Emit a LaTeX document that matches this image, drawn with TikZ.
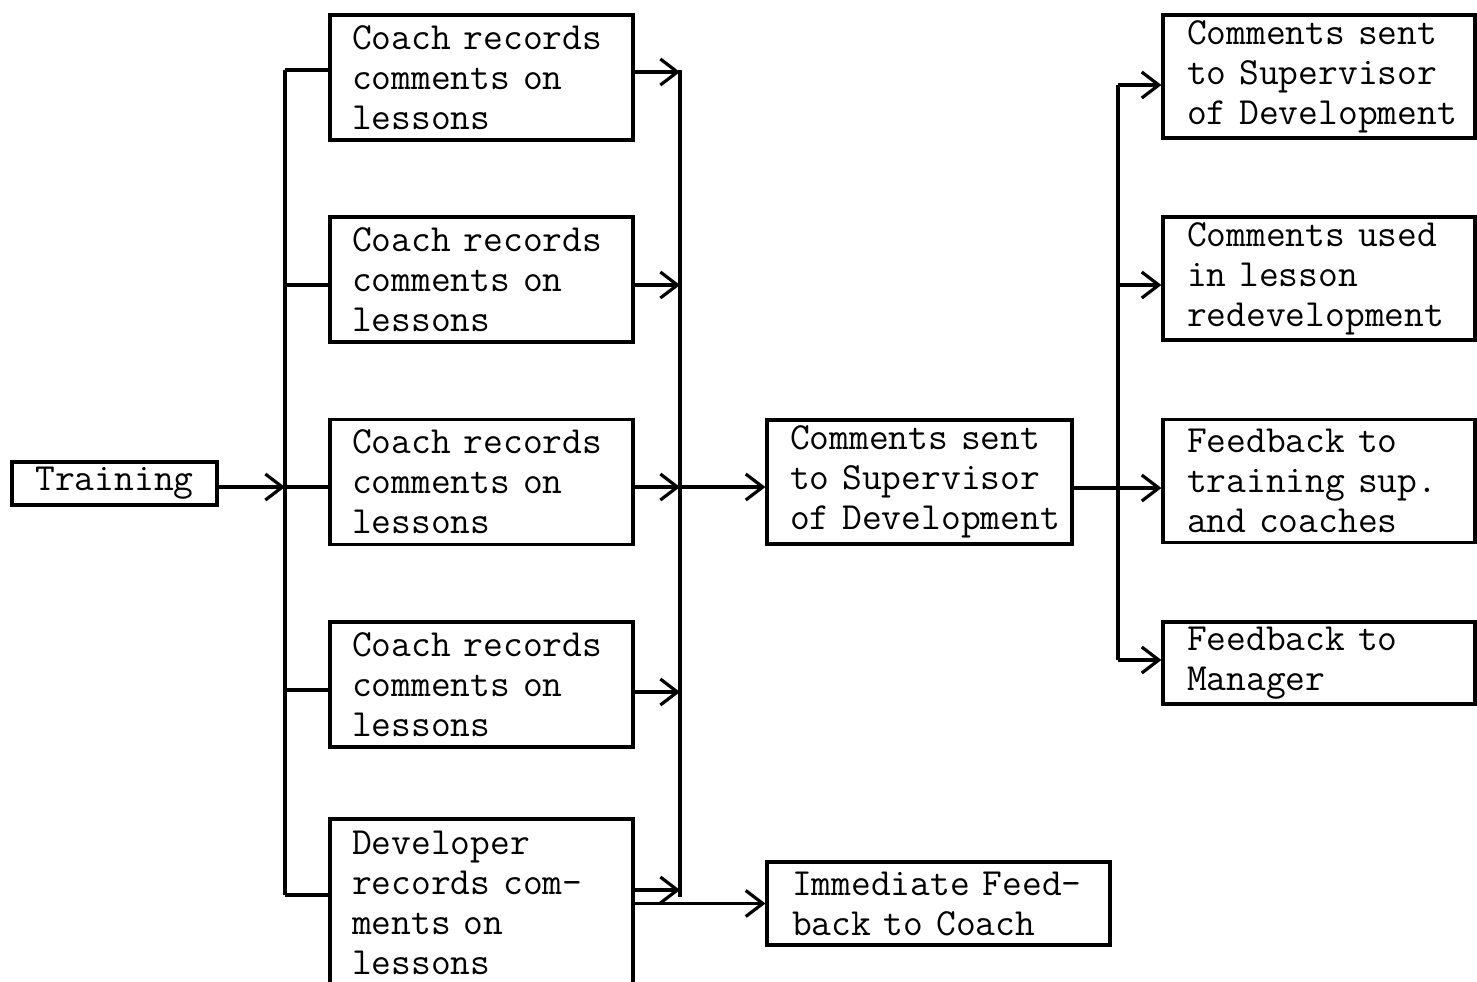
\documentclass[tikz,border=0pt]{standalone}
\usepackage{fontspec}
\usetikzlibrary{arrows.meta}
\tikzset{
  ln/.style={line width=1.6pt},
  flow/.style={ln, -{Straight Barb[length=8.5pt,width=13pt,line width=1.6pt]}},
  stepbox/.style={draw, ln, inner xsep=0pt, inner ysep=0pt, align=left,
    font=\ttfamily\fontsize{19.2}{20}\selectfont\addfontfeatures{FakeBold=2.8},
    execute at begin node={\hyphenpenalty=10000\exhyphenpenalty=10000}},
}
\begin{document}
\begin{tikzpicture}[x=0.5pt,y=-0.5pt]
\useasboundingbox (0,0) rectangle (1477,981);
\clip (0,0) rectangle (1477,981);

% start
\node[stepbox, align=center, minimum width=102.5pt, minimum height=21.5pt] (train) at (114.5,483.5) {Training};

% recording boxes
\tikzset{recbox/.style={stepbox, text width=129.5pt, minimum width=151.5pt, minimum height=62.5pt}}
\node[recbox] (b1) at (481.5,77.5) {Coach~records\\comments~on\\lessons};
\node[recbox] (b2) at (481.5,279.5) {Coach~records\\comments~on\\lessons};
\node[recbox] (b3) at (481.5,482) {Coach~records\\comments~on\\lessons};
\node[recbox] (b4) at (481.5,684.5) {Coach~records\\comments~on\\lessons};
\node[recbox, minimum height=84pt] (b5) at (481.5,903) {Developer\\records~com-\\ments~on\\lessons};

% collected comments and immediate feedback
\node[stepbox, text width=129.5pt, minimum width=152.5pt, minimum height=62pt] (mid) at (919.5,482) {Comments~sent\\to~Supervisor\\of~Development};
\node[stepbox, text width=146.5pt, minimum width=171.5pt, minimum height=41.5pt] (imm) at (938.5,903.5) {Immediate~Feed-\\back~to~Coach};

% outcomes
\tikzset{resbox/.style={stepbox, text width=132pt, minimum width=156pt, minimum height=61.5pt}}
\node[resbox] (r1) at (1319,76.5) {Comments~sent\\to~Supervisor\\of~Development};
\node[resbox] (r2) at (1319,278.5) {Comments~used\\in~lesson\\redevelopment};
\node[resbox] (r3) at (1319,481) {Feedback~to\\training~sup.\\and~coaches};
\node[resbox, minimum height=41pt] (r4) at (1319,663) {Feedback~to\\Manager};

% left distribution bus
\coordinate (la) at (285,70);
\coordinate (lb) at (285,285);
\coordinate (lc) at (285,487);
\coordinate (ld) at (285,690);
\coordinate (le) at (285,895);
\draw[ln] (la) -- (le);
\draw[flow] (train.east |- lc) -- (lc);
\draw[ln] (la) -- (la -| b1.west);
\draw[ln] (lb) -- (lb -| b2.west);
\draw[ln] (lc) -- (lc -| b3.west);
\draw[ln] (ld) -- (ld -| b4.west);
\draw[ln] (le) -- (le -| b5.west);

% collecting bus
\coordinate (ma) at (680,72);
\coordinate (mb) at (680,285);
\coordinate (mc) at (680,487);
\coordinate (md) at (680,692);
\coordinate (me) at (680,890);
\draw[ln] (680,70) -- (680,897);
\draw[flow] (ma -| b1.east) -- (ma);
\draw[flow] (mb -| b2.east) -- (mb);
\draw[flow] (mc -| b3.east) -- (mc);
\draw[flow] (md -| b4.east) -- (md);
\draw[flow] (me -| b5.east) -- (me);
\draw[flow] (mc) -- (mc -| mid.west);
\draw[flow] (imm.west -| b5.east) -- (imm.west);

% outcome bus
\coordinate (ra) at (1118,85);
\coordinate (rb) at (1118,285);
\coordinate (rc) at (1118,488);
\coordinate (rd) at (1118,660);
\draw[ln] (ra) -- (rd);
\draw[ln] (rc -| mid.east) -- (rc);
\draw[flow] (ra) -- (ra -| r1.west);
\draw[flow] (rb) -- (rb -| r2.west);
\draw[flow] (rc) -- (rc -| r3.west);
\draw[flow] (rd) -- (rd -| r4.west);
\end{tikzpicture}
\end{document}
